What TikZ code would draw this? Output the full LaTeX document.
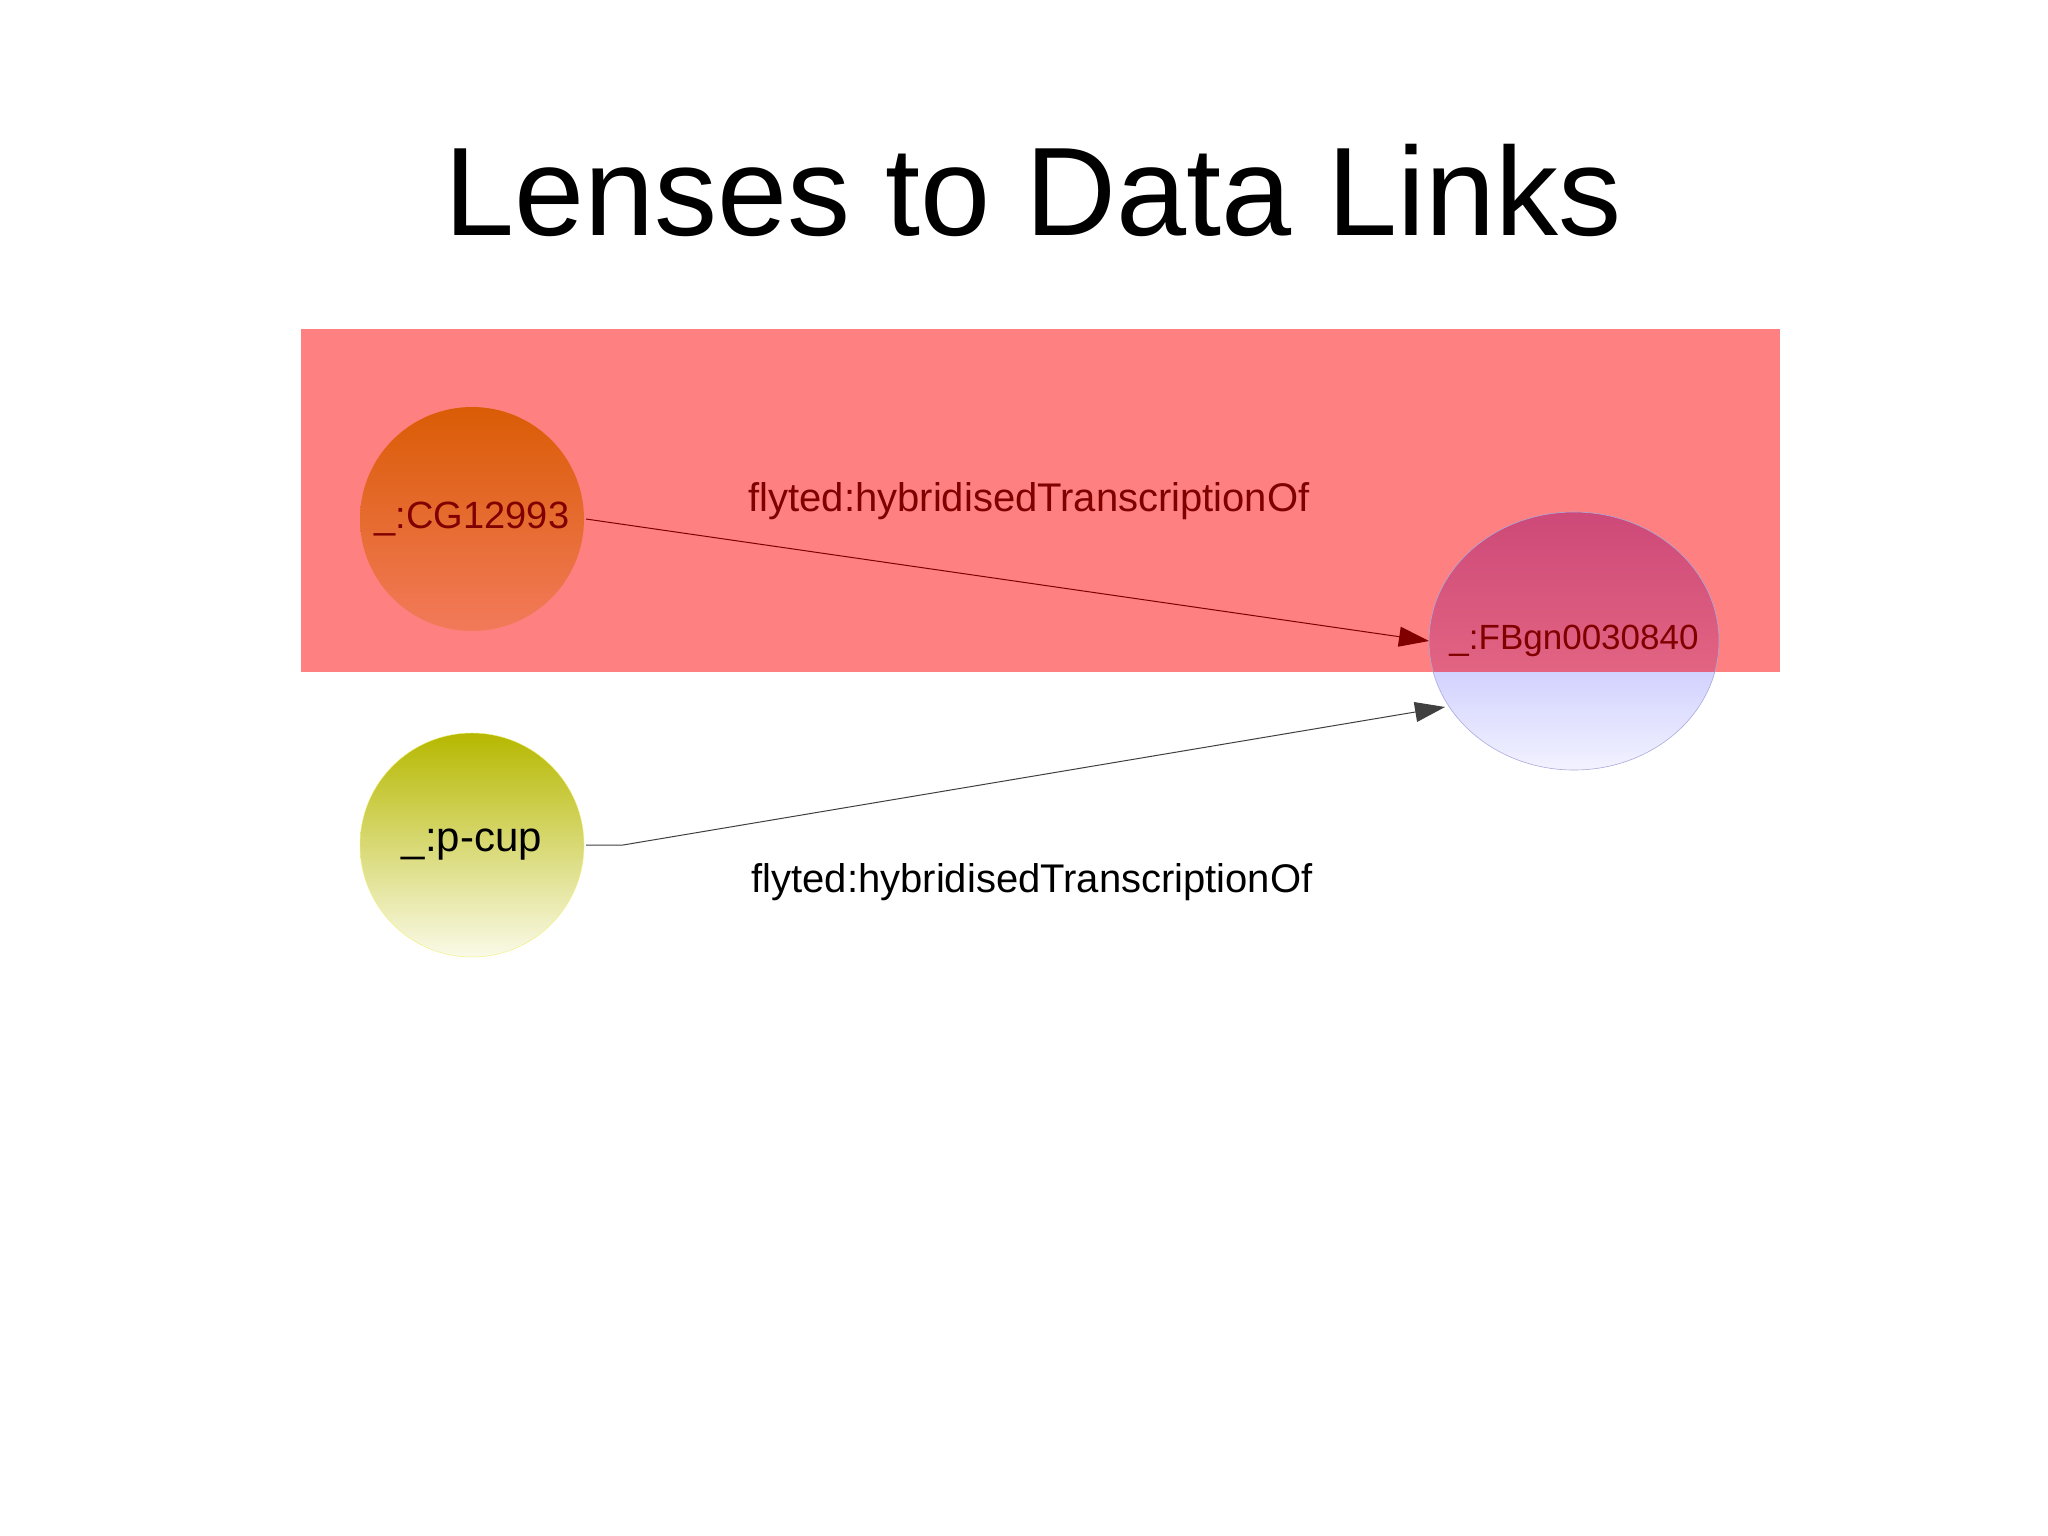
\documentclass[tikz,border=0pt]{standalone}
\usepackage{fontspec}
\setmainfont{Liberation Sans}
\usetikzlibrary{arrows.meta,shapes.geometric}
\definecolor{rectred}{HTML}{FF8080}
\definecolor{labred}{HTML}{800000}
\definecolor{cgtop}{RGB}{218,92,5}
\definecolor{cgbot}{RGB}{242,122,90}
\definecolor{pctop}{RGB}{182,184,0}
\definecolor{pcbot}{RGB}{250,250,232}
\definecolor{pcdraw}{RGB}{240,240,120}
\definecolor{fbtop}{RGB}{204,72,120}
\definecolor{fbmid}{RGB}{226,100,130}
\definecolor{fblo}{RGB}{210,210,255}
\definecolor{fbbot}{RGB}{244,244,255}
\definecolor{fbdraw}{RGB}{170,170,220}
\tikzset{
  lbl/.style={font=\fontsize{40}{48}\selectfont, inner sep=0pt},
  edge/.style={line width=1pt, -{Triangle[length=30pt,width=20pt]}},
}
\begin{document}
\begin{tikzpicture}[x=1pt,y=-1pt]
\useasboundingbox (0,0) rectangle (2048,1535);
\fill[white] (0,0) rectangle (2048,1535);
\node[font=\fontsize{126}{140}\selectfont, anchor=base] (title) at (1033,235) {Lenses to Data Links};
\fill[rectred] (301,329) rectangle (1780,672);
% CG12993
\shade[top color=cgtop, bottom color=cgbot] (472,519) circle (112);
\node[circle, minimum size=224pt, inner sep=0pt] (cg) at (472,519) {};
\node[lbl, text=labred, font=\fontsize{38}{44}\selectfont] at (472,519) {\_:CG12993};
% p-cup
\shade[top color=pctop, bottom color=pcbot, draw=pcdraw] (472,845) circle (112);
\node[circle, minimum size=224pt, inner sep=0pt] (pc) at (472,845) {};
\node[lbl, font=\fontsize{42}{48}\selectfont] at (472,845) {\_:p-cup};
% FBgn
\begin{scope}
\clip (1574,641) ellipse (145 and 129);
\shade[top color=fbtop, bottom color=fbmid] (1420,505) rectangle (1730,672);
\shade[top color=fblo, bottom color=fbbot] (1420,672) rectangle (1730,775);
\end{scope}
\draw[fbdraw, line width=0.6pt] (1574,641) ellipse (145 and 129);
\node[ellipse, minimum width=290pt, minimum height=258pt, inner sep=0pt] (fb) at (1574,641) {};
\node[lbl, text=labred, font=\fontsize{35}{40}\selectfont] at (1574,641) {\_:FBgn0030840};
% edges
\coordinate (e1s) at (586,519);
\coordinate (e1t) at (1429,641);
\draw[edge, labred] (e1s) -- (e1t);
\coordinate (e2s) at (586,845);
\coordinate (e2m) at (623,845);
\coordinate (e2t) at (1445,707);
\draw[edge, black!75] (e2s) -- (e2m) -- (e2t);
\node[lbl, text=labred] (l1) at (1029,501) {flyted:hybridisedTranscriptionOf};
\node[lbl] (l2) at (1032,882) {flyted:hybridisedTranscriptionOf};
\end{tikzpicture}
\end{document}
